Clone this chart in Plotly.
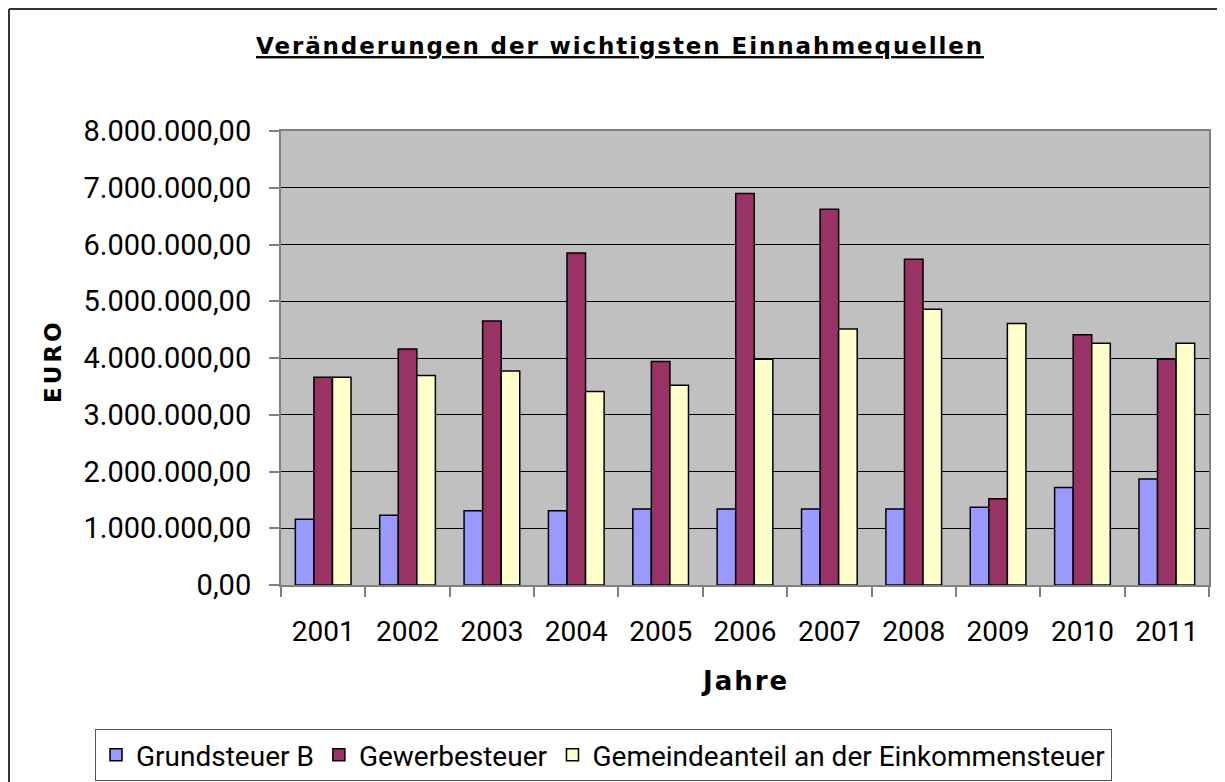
import plotly.graph_objects as go

years = ["2001", "2002", "2003", "2004", "2005", "2006", "2007", "2008", "2009", "2010", "2011"]
grundsteuer_b = [1160000, 1230000, 1310000, 1310000, 1340000, 1340000, 1340000, 1340000, 1370000, 1720000, 1870000]
gewerbesteuer = [3660000, 4160000, 4650000, 5850000, 3940000, 6900000, 6620000, 5740000, 1520000, 4410000, 3980000]
einkommensteuer = [3660000, 3690000, 3770000, 3410000, 3520000, 3980000, 4510000, 4860000, 4610000, 4260000, 4260000]
y_ticks = [0, 1000000, 2000000, 3000000, 4000000, 5000000, 6000000, 7000000, 8000000]

series = [
    ("Grundsteuer B", grundsteuer_b, "#9999FF"),
    ("Gewerbesteuer", gewerbesteuer, "#993366"),
    ("Gemeindeanteil an der Einkommensteuer", einkommensteuer, "#FFFFCC"),
]

# page offset of the plot div (default body margin)
OFF = 8
PL, PR, PT, PB = 281, 1209, 131, 585   # plot area in page pixels
PW, PH = PR - PL, PB - PT
FW, FH = 1225 - OFF, 782 - OFF


def px(xp):
    return (xp - PL) / PW


def py(yp):
    return (PB - yp) / PH


fig = go.Figure()
for name, vals, col in series:
    fig.add_trace(go.Bar(
        x=years, y=vals, name=name,
        marker=dict(color=col, line=dict(color="black", width=1.5)),
    ))

fig.update_layout(
    width=FW, height=FH,
    margin=dict(l=PL - OFF, r=FW - (PR - OFF), t=PT - OFF, b=FH - (PB - OFF), autoexpand=False),
    paper_bgcolor="white",
    plot_bgcolor="#C0C0C0",
    barmode="group",
    bargap=0.34,
    bargroupgap=0,
    separators=",.",
    title=dict(
        text='<span style="letter-spacing:1.9px"><u>Veränderungen der wichtigsten Einnahmequellen</u></span>',
        font=dict(family="DejaVu Sans", size=23, color="black", weight="bold"),
        x=(620 - OFF) / FW, xref="container", xanchor="center",
        y=1 - (46 - OFF) / FH, yref="container", yanchor="middle",
    ),
    legend=dict(
        orientation="h",
        x=px(95), xanchor="left",
        y=py(729), yanchor="top",
        bordercolor="#555555", borderwidth=1,
        font=dict(family="Roboto", size=28, color="black"),
        bgcolor="white",
        tracegroupgap=0,
    ),
    showlegend=True,
)

fig.update_xaxes(
    type="category",
    tickson="boundaries",
    ticks="outside", ticklen=10, tickcolor="#808080", tickwidth=1.5,
    showline=True, linecolor="#808080", linewidth=2, mirror=True,
    showgrid=False,
    tickfont=dict(family="Roboto", size=28, color="black"),
    ticklabelstandoff=20,
)

fig.update_yaxes(
    range=[0, 8000000],
    tickvals=y_ticks,
    tickformat=",.2f",
    ticks="outside", ticklen=10, tickcolor="#808080", tickwidth=1.5,
    showline=True, linecolor="#808080", linewidth=2, mirror=True,
    showgrid=True, gridcolor="black", gridwidth=1,
    zeroline=False,
    tickfont=dict(family="Roboto", size=29, color="black"),
    ticklabelstandoff=12,
)

# axis titles
fig.add_annotation(
    text='<span style="letter-spacing:2px"><b>Jahre</b></span>',
    xref="paper", yref="paper", x=px(745), y=py(681),
    xanchor="center", yanchor="middle", showarrow=False,
    font=dict(family="DejaVu Sans", size=26, color="black"),
)
fig.add_annotation(
    text='<span style="letter-spacing:3px"><b>EURO</b></span>',
    xref="paper", yref="paper", x=px(53), y=py(361),
    xanchor="center", yanchor="middle", showarrow=False, textangle=-90,
    font=dict(family="DejaVu Sans", size=23, color="black"),
)

# outer chart frame (left and top edges visible)
fig.add_shape(type="line", xref="paper", yref="paper",
              x0=px(9), x1=px(9), y0=py(782), y1=py(OFF + 1),
              line=dict(color="#333333", width=2))
fig.add_shape(type="line", xref="paper", yref="paper",
              x0=px(9), x1=px(1225), y0=py(OFF + 1), y1=py(OFF + 1),
              line=dict(color="#333333", width=2))

fig.write_html("out.html")
